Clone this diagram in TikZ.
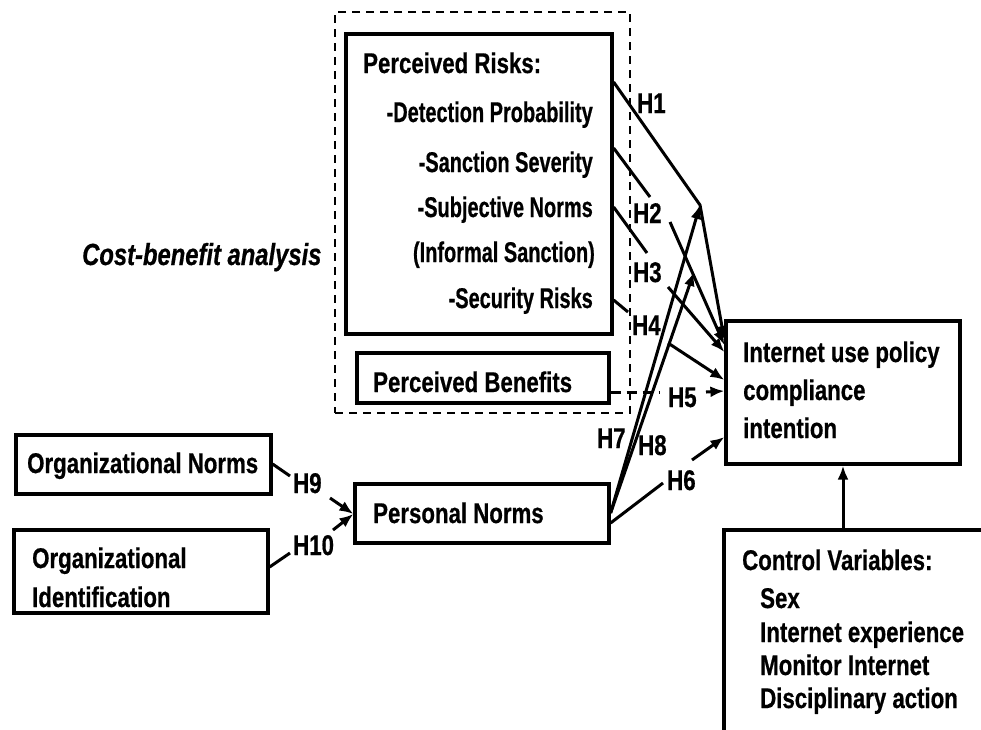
\documentclass[tikz,border=0pt]{standalone}
\usepackage{fontspec}
\setmainfont{Liberation Sans}[FakeStretch=0.78, FakeBold=0.6]
\newfontfamily\narrowface{Liberation Sans}[FakeStretch=0.70, FakeBold=0.6]
\usetikzlibrary{arrows.meta}
\begin{document}
\begin{tikzpicture}[x=1pt,y=-1pt,
  box/.style={draw, line width=3.2pt, inner sep=0pt},
  grp/.style={draw, line width=1.8pt, dash pattern=on 8pt off 6pt, inner sep=0pt},
  lbl/.style={anchor=base west, inner sep=0pt, font=\fontsize{28.5}{34}\selectfont\bfseries},
  lblr/.style={lbl, anchor=base east, font=\fontsize{28.5}{34}\narrowface\bfseries},
  link/.style={line width=3pt},
  arr/.style={link, -{Latex[length=14pt,width=11pt]}},
]
\useasboundingbox (0,0) rectangle (981,729);

% boxes
\node[grp, minimum width=295pt, minimum height=401pt] (cba) at (482.5,212.5) {};
\node[box, minimum width=266pt, minimum height=300pt] (risks) at (479,184) {};
\node[box, minimum width=252pt, minimum height=50pt] (benef) at (483,378) {};
\node[box, minimum width=255pt, minimum height=59pt] (onorm) at (143.5,464.5) {};
\node[box, minimum width=254pt, minimum height=83pt] (oident) at (141,571.5) {};
\node[box, minimum width=254pt, minimum height=59pt] (pnorm) at (482,513.5) {};
\node[box, minimum width=234pt, minimum height=143pt] (intent) at (843,392.5) {};
\begin{scope}
  \clip (0,0) rectangle (981,729);
  \node[box, minimum width=300pt, minimum height=240pt] (ctrl) at (874,650) {};
\end{scope}

% box texts
\node[lbl] (tRisk) at (363,73) {Perceived Risks:};
\node[lblr] (tDet) at (593,122) {-Detection Probability};
\node[lblr] (tSan) at (593,172) {-Sanction Severity};
\node[lblr] (tSub) at (593,217) {-Subjective Norms};
\node[lblr] (tInf) at (595,262) {(Informal Sanction)};
\node[lblr] (tSec) at (593,308) {-Security Risks};
\node[lbl] (tBen) at (373,392) {Perceived Benefits};
\node[lbl] (tON) at (27,473) {Organizational Norms};
\node[lbl] (tOI1) at (32,568) {Organizational};
\node[lbl] (tOI2) at (32,607) {Identification};
\node[lbl] (tPN) at (373,523) {Personal Norms};
\node[lbl] (tIn1) at (743,362) {Internet use policy};
\node[lbl] (tIn2) at (743,400) {compliance};
\node[lbl] (tIn3) at (743,438) {intention};
\node[lbl] (tCV) at (742,570) {Control Variables:};
\node[lbl] (tCV1) at (760,608) {Sex};
\node[lbl] (tCV2) at (760,642) {Internet experience};
\node[lbl] (tCV3) at (760,675) {Monitor Internet};
\node[lbl] (tCV4) at (760,708) {Disciplinary action};
\node[lbl, font=\fontsize{30.5}{36}\selectfont\bfseries\itshape] (tCBA) at (82,265) {Cost-benefit analysis};

% break points around the hypothesis labels
\coordinate (h1bend) at (700,205);
\coordinate (h2a) at (650,197);
\coordinate (h2b) at (670,222);
\coordinate (h3a) at (647,253);
\coordinate (h3b) at (668,287);
\coordinate (h4a) at (628,312);
\coordinate (h4b) at (668,343);
\coordinate (h5a) at (660,392);
\coordinate (h5b) at (706,392);
\coordinate (h6a) at (663,483);
\coordinate (h6b) at (692,460);
\coordinate (h8end) at (694,272);
\coordinate (h9a) at (290,476);
\coordinate (h9b) at (330,498);
\coordinate (h10a) at (290,553);
\coordinate (h10b) at (333,530);

% connectors
\draw[arr] (risks.east |- 0,82) -- (h1bend) -- (intent.west |- 0,340);
\draw[link] (risks.east |- 0,148) -- (h2a);
\draw[arr] (h2b) -- (intent.west |- 0,345);
\draw[link] (risks.east |- 0,207) -- (h3a);
\draw[arr] (h3b) -- (intent.west |- 0,352);
\draw[link] (risks.east |- 0,300) -- (h4a);
\draw[arr] (h4b) -- (intent.west |- 0,380);
\draw[link, dash pattern=on 10pt off 6pt] (benef.east |- 0,392) -- (h5a);
\draw[arr] (h5b) -- (intent.west |- 0,391);
\draw[link] (pnorm.east |- 0,523) -- (h6a);
\draw[arr] (h6b) -- (intent.west |- 0,437);
\draw[arr] (pnorm.east |- 0,513) -- (h1bend);
\draw[arr] (pnorm.east |- 0,513) -- (h8end);
\draw[link] (onorm.east |- 0,464) -- (h9a);
\draw[arr] (h9b) -- (pnorm.west |- 0,514);
\draw[link] (oident.east |- 0,567) -- (h10a);
\draw[arr] (h10b) -- (pnorm.west |- 0,514);
\draw[arr] (intent.south |- ctrl.north) -- (intent.south);

% hypothesis labels
\node[lbl] (H1) at (637,113) {H1};
\node[lbl] (H2) at (633,223) {H2};
\node[lbl] (H3) at (633,282) {H3};
\node[lbl] (H4) at (632,335) {H4};
\node[lbl] (H5) at (668,407) {H5};
\node[lbl] (H6) at (667,490) {H6};
\node[lbl] (H7) at (597,448) {H7};
\node[lbl] (H8) at (638,455) {H8};
\node[lbl] (H9) at (293,493) {H9};
\node[lbl] (H10) at (293,555) {H10};
\end{tikzpicture}
\end{document}
